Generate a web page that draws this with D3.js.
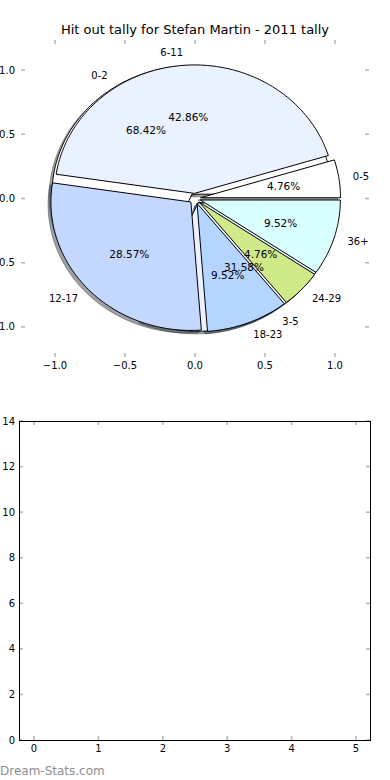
<!DOCTYPE html>
<html>
<head>
<meta charset="utf-8">
<script src="https://cdn.jsdelivr.net/npm/d3@7"></script>
<style>
  body { margin: 0; background: #fff; }
  svg { display: block; font-family: "DejaVu Sans", sans-serif; }
</style>
</head>
<body>
<svg id="chart" width="390" height="780"></svg>
<script>
// hit out tally, by age bracket of the game clock (two tallies overlaid)
var outerLabels = ['0-5', '6-11', '12-17', '18-23', '24-29', '36+'];
var outerCounts = [1, 9, 6, 2, 1, 2];
var innerLabels = ['0-2', '3-5'];
var innerCounts = [13, 6];
var sliceColors = ['#ffffff', '#eaf1ff', '#c4d8ff', '#b3d5ff', '#d0ea8a', '#d9ffff'];
var pieTicks = [-1.0, -0.5, 0.0, 0.5, 1.0];
var barXTicks = [0, 1, 2, 3, 4, 5];
var barYTicks = [0, 2, 4, 6, 8, 10, 12, 14];

var EXPLODE = 0.04;
var svg = d3.select('#chart');
var tickGrey = '#b4b4b4';

/* ---------- top axes: pie ---------- */
var pieX = d3.scaleLinear().domain([-1.243, 1.243]).range([21, 369]);
var pieY = d3.scaleLinear().domain([-1.234, 1.234]).range([357, 40]);

svg.append('text')
  .attr('x', 195).attr('y', 34)
  .attr('text-anchor', 'middle')
  .attr('font-size', '13px')
  .text('Hit out tally for Stefan Martin - 2011 tally');

var pieGen = d3.pie().sort(null).value(function(d) { return d; })
  .startAngle(0).endAngle(2 * Math.PI);

var wedgeLine = d3.line()
  .x(function(p) { return pieX(p[0]); })
  .y(function(p) { return pieY(p[1]); });

function wedgeGeom(arcs) {
  return arcs.map(function(a) {
    var tm = (a.startAngle + a.endAngle) / 2;
    var ox = EXPLODE * Math.cos(tm), oy = EXPLODE * Math.sin(tm);
    var pts = [[ox, oy]];
    var n = Math.max(8, Math.ceil((a.endAngle - a.startAngle) * 60));
    for (var k = 0; k <= n; k++) {
      var t = a.startAngle + (a.endAngle - a.startAngle) * k / n;
      pts.push([ox + Math.cos(t), oy + Math.sin(t)]);
    }
    return { arc: a, tm: tm, ox: ox, oy: oy, pts: pts };
  });
}

var innerW = wedgeGeom(pieGen(innerCounts));
var outerW = wedgeGeom(pieGen(outerCounts));
var pieG = svg.append('g');

// shadows first (they sit under every wedge)
function drawShadows(ws, colors) {
  ws.forEach(function(w, i) {
    var c = d3.rgb(colors[i]);
    var sc = 'rgb(' + Math.round(c.r * 0.3) + ',' + Math.round(c.g * 0.3) + ',' + Math.round(c.b * 0.3) + ')';
    var shifted = w.pts.map(function(p) { return [p[0] - 0.02, p[1] - 0.02]; });
    pieG.append('path')
      .attr('d', wedgeLine(shifted) + 'Z')
      .attr('fill', sc).attr('fill-opacity', 0.5)
      .attr('stroke', sc).attr('stroke-opacity', 0.5).attr('stroke-width', 1);
  });
}
drawShadows(innerW, sliceColors);
drawShadows(outerW, sliceColors);

function drawWedges(ws, colors) {
  ws.forEach(function(w, i) {
    pieG.append('path')
      .attr('d', wedgeLine(w.pts) + 'Z')
      .attr('fill', colors[i])
      .attr('stroke', '#000').attr('stroke-width', 1)
      .attr('stroke-linejoin', 'miter');
  });
}
drawWedges(innerW, sliceColors);
drawWedges(outerW, sliceColors);

function drawTexts(ws, labels, counts) {
  var total = d3.sum(counts);
  ws.forEach(function(w, i) {
    var xt = w.ox + 1.1 * Math.cos(w.tm), yt = w.oy + 1.1 * Math.sin(w.tm);
    pieG.append('text')
      .attr('x', pieX(xt)).attr('y', pieY(yt))
      .attr('text-anchor', xt > 0 ? 'start' : 'end')
      .attr('dominant-baseline', 'central')
      .attr('font-size', '10px')
      .text(labels[i]);
    var xp = w.ox + 0.6 * Math.cos(w.tm), yp = w.oy + 0.6 * Math.sin(w.tm);
    pieG.append('text')
      .attr('x', pieX(xp)).attr('y', pieY(yp))
      .attr('text-anchor', 'middle')
      .attr('dominant-baseline', 'central')
      .attr('font-size', '10.5px')
      .text((counts[i] / total * 100).toFixed(2) + '%');
  });
}
drawTexts(innerW, innerLabels, innerCounts);
drawTexts(outerW, outerLabels, outerCounts);

// pie axes: no frame, just grey ticks on all sides
function fmtPie(v) { return d3.format('.1f')(v).replace('-', '\u2212'); }
var tg = svg.append('g').attr('stroke', tickGrey).attr('stroke-width', 1.5);
pieTicks.forEach(function(v) {
  var px = pieX(v), py = pieY(v);
  tg.append('line').attr('x1', px).attr('x2', px).attr('y1', 40).attr('y2', 44);
  tg.append('line').attr('x1', px).attr('x2', px).attr('y1', 357).attr('y2', 353);
  tg.append('line').attr('x1', 21).attr('x2', 25).attr('y1', py).attr('y2', py);
  tg.append('line').attr('x1', 369).attr('x2', 365).attr('y1', py).attr('y2', py);
  svg.append('text').attr('x', px).attr('y', 369)
    .attr('text-anchor', 'middle').attr('font-size', '10px').text(fmtPie(v));
  svg.append('text').attr('x', 15).attr('y', py)
    .attr('text-anchor', 'end').attr('dominant-baseline', 'central')
    .attr('font-size', '10px').text(fmtPie(v));
});

/* ---------- bottom axes: empty bar panel ---------- */
var barX = d3.scaleLinear().domain([-0.233, 5.217]).range([19, 370]);
var barY = d3.scaleLinear().domain([0, 14]).range([740, 421]);

var bg = svg.append('g');
var bt = bg.append('g').attr('stroke', tickGrey).attr('stroke-width', 1.5);
barXTicks.forEach(function(v) {
  var px = barX(v);
  bt.append('line').attr('x1', px).attr('x2', px).attr('y1', 421).attr('y2', 425);
  bt.append('line').attr('x1', px).attr('x2', px).attr('y1', 740).attr('y2', 736);
  bg.append('text').attr('x', px).attr('y', 752)
    .attr('text-anchor', 'middle').attr('font-size', '10px').text(v);
});
barYTicks.forEach(function(v) {
  var py = barY(v);
  bt.append('line').attr('x1', 19).attr('x2', 23).attr('y1', py).attr('y2', py);
  bt.append('line').attr('x1', 370).attr('x2', 366).attr('y1', py).attr('y2', py);
  bg.append('text').attr('x', 15).attr('y', py)
    .attr('text-anchor', 'end').attr('dominant-baseline', 'central')
    .attr('font-size', '10px').text(v);
});
bg.append('rect')
  .attr('x', barX.range()[0] + 0.5).attr('y', barY.range()[1] + 0.5)
  .attr('width', barX.range()[1] - barX.range()[0])
  .attr('height', barY.range()[0] - barY.range()[1])
  .attr('fill', 'none').attr('stroke', '#000').attr('stroke-width', 1);

svg.append('text')
  .attr('x', 0).attr('y', 775)
  .attr('font-size', '12px').attr('fill', '#8f8f8f')
  .text('Dream-Stats.com');
</script>
</body>
</html>
